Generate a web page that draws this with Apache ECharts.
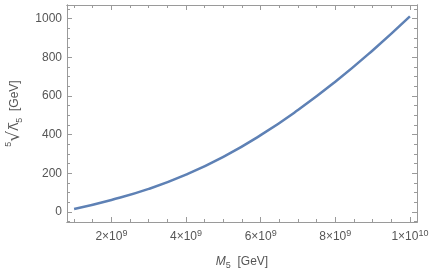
<!DOCTYPE html>
<html><head><meta charset="utf-8">
<script src="https://cdn.jsdelivr.net/npm/echarts@6/dist/echarts.min.js"></script>
<style>html,body{margin:0;padding:0;background:#fff}#c{width:436px;height:272px}</style>
</head><body><div id="c"></div>
<script>
const mass = [1e9, 2e9, 3e9, 4e9, 5e9, 6e9, 7e9, 8e9, 9e9, 1e10];
const lambda5Root = [15, 62, 119, 193, 285, 397, 527, 673, 835, 1011];
const xMajorTicks = [2e9, 4e9, 6e9, 8e9, 1e10];
const xMinorTicks = [1e9, 1.5e9, 2.5e9, 3e9, 3.5e9, 4.5e9, 5e9, 5.5e9, 6.5e9, 7e9, 7.5e9, 8.5e9, 9e9, 9.5e9];
const yMajorTicks = [0, 200, 400, 600, 800, 1000];
const yMinorTicks = [-50, 50, 100, 150, 250, 300, 350, 450, 500, 550, 650, 700, 750, 850, 900, 950, 1050];

const frameColor = '#9a9a9a';
const textColor = '#555';
const font = 'Liberation Sans';
const xMin = 0.81e9, xMax = 10.19e9, yMin = -52, yMax = 1070;

function xFmt(v) {
  const e = Math.floor(Math.log10(v) + 1e-9);
  const m = Math.round(v / Math.pow(10, e));
  return '{b|' + m + '\u00d710}{s|' + e + '}';
}

function xAx(pos, ticks, len, labels) {
  return {
    type: 'value', position: pos, min: xMin, max: xMax, gridIndex: 0,
    axisLine: { show: true, onZero: false, lineStyle: { color: frameColor, width: 1 } },
    axisTick: { show: true, inside: true, length: len, customValues: ticks, lineStyle: { color: frameColor } },
    axisLabel: labels ? {
      show: true, inside: false, customValues: xMajorTicks, formatter: xFmt, margin: 7,
      rich: {
        b: { fontFamily: font, fontSize: 12, color: textColor, lineHeight: 16 },
        s: { fontFamily: font, fontSize: 9, color: textColor, lineHeight: 9, verticalAlign: 'top' }
      }
    } : { show: false },
    splitLine: { show: false },
    name: labels ? '{i|M}{s|5}{t|  [GeV]}' : '',
    nameLocation: 'middle', nameGap: 32,
    nameTextStyle: {
      rich: {
        i: { fontFamily: font, fontSize: 12, fontStyle: 'italic', color: textColor, lineHeight: 16 },
        s: { fontFamily: font, fontSize: 9, color: textColor, lineHeight: 9, verticalAlign: 'bottom' },
        t: { fontFamily: font, fontSize: 12, color: textColor, lineHeight: 16 }
      }
    }
  };
}

function yAx(pos, ticks, len, labels) {
  return {
    type: 'value', position: pos, min: yMin, max: yMax, gridIndex: 0,
    axisLine: { show: true, onZero: false, lineStyle: { color: frameColor, width: 1 } },
    axisTick: { show: true, inside: true, length: len, customValues: ticks, lineStyle: { color: frameColor } },
    axisLabel: labels ? {
      show: true, inside: false, customValues: yMajorTicks, margin: 5,
      formatter: v => String(v),
      fontFamily: font, fontSize: 12, color: textColor
    } : { show: false },
    splitLine: { show: false },
    name: labels ? '{i|5}{r|\u221a}{o|\u039b\u0305}{s|5}{t|  [GeV]}' : '',
    nameLocation: 'middle', nameGap: 42, nameRotate: 90,
    nameTextStyle: {
      rich: {
        i: { fontFamily: font, fontSize: 9, color: textColor, lineHeight: 9, verticalAlign: 'top' },
        r: { fontFamily: 'DejaVu Sans', fontSize: 17, color: textColor, lineHeight: 20 },
        o: { fontFamily: 'DejaVu Sans', fontSize: 12, color: textColor, lineHeight: 18 },
        s: { fontFamily: font, fontSize: 9, color: textColor, lineHeight: 9, verticalAlign: 'bottom' },
        t: { fontFamily: font, fontSize: 12, color: textColor, lineHeight: 18 }
      }
    }
  };
}

const chart = echarts.init(document.getElementById('c'), null, { renderer: 'canvas' });
chart.setOption({
  animation: false,
  backgroundColor: '#fff',
  grid: { left: 67, right: 19, top: 5, bottom: 50, containLabel: false, outerBoundsMode: 'none' },
  xAxis: [
    xAx('bottom', xMajorTicks, 5, true),
    xAx('bottom', xMinorTicks, 3, false),
    xAx('top', xMajorTicks, 5, false),
    xAx('top', xMinorTicks, 3, false)
  ],
  yAxis: [
    yAx('left', yMajorTicks, 5, true),
    yAx('left', yMinorTicks, 3, false),
    yAx('right', yMajorTicks, 5, false),
    yAx('right', yMinorTicks, 3, false)
  ],
  series: [{
    type: 'line', xAxisIndex: 0, yAxisIndex: 0,
    data: mass.map((m, i) => [m, lambda5Root[i]]),
    smooth: 0.5, showSymbol: false,
    lineStyle: { color: '#5e81b5', width: 2.5 }
  }]
});
</script></body></html>
